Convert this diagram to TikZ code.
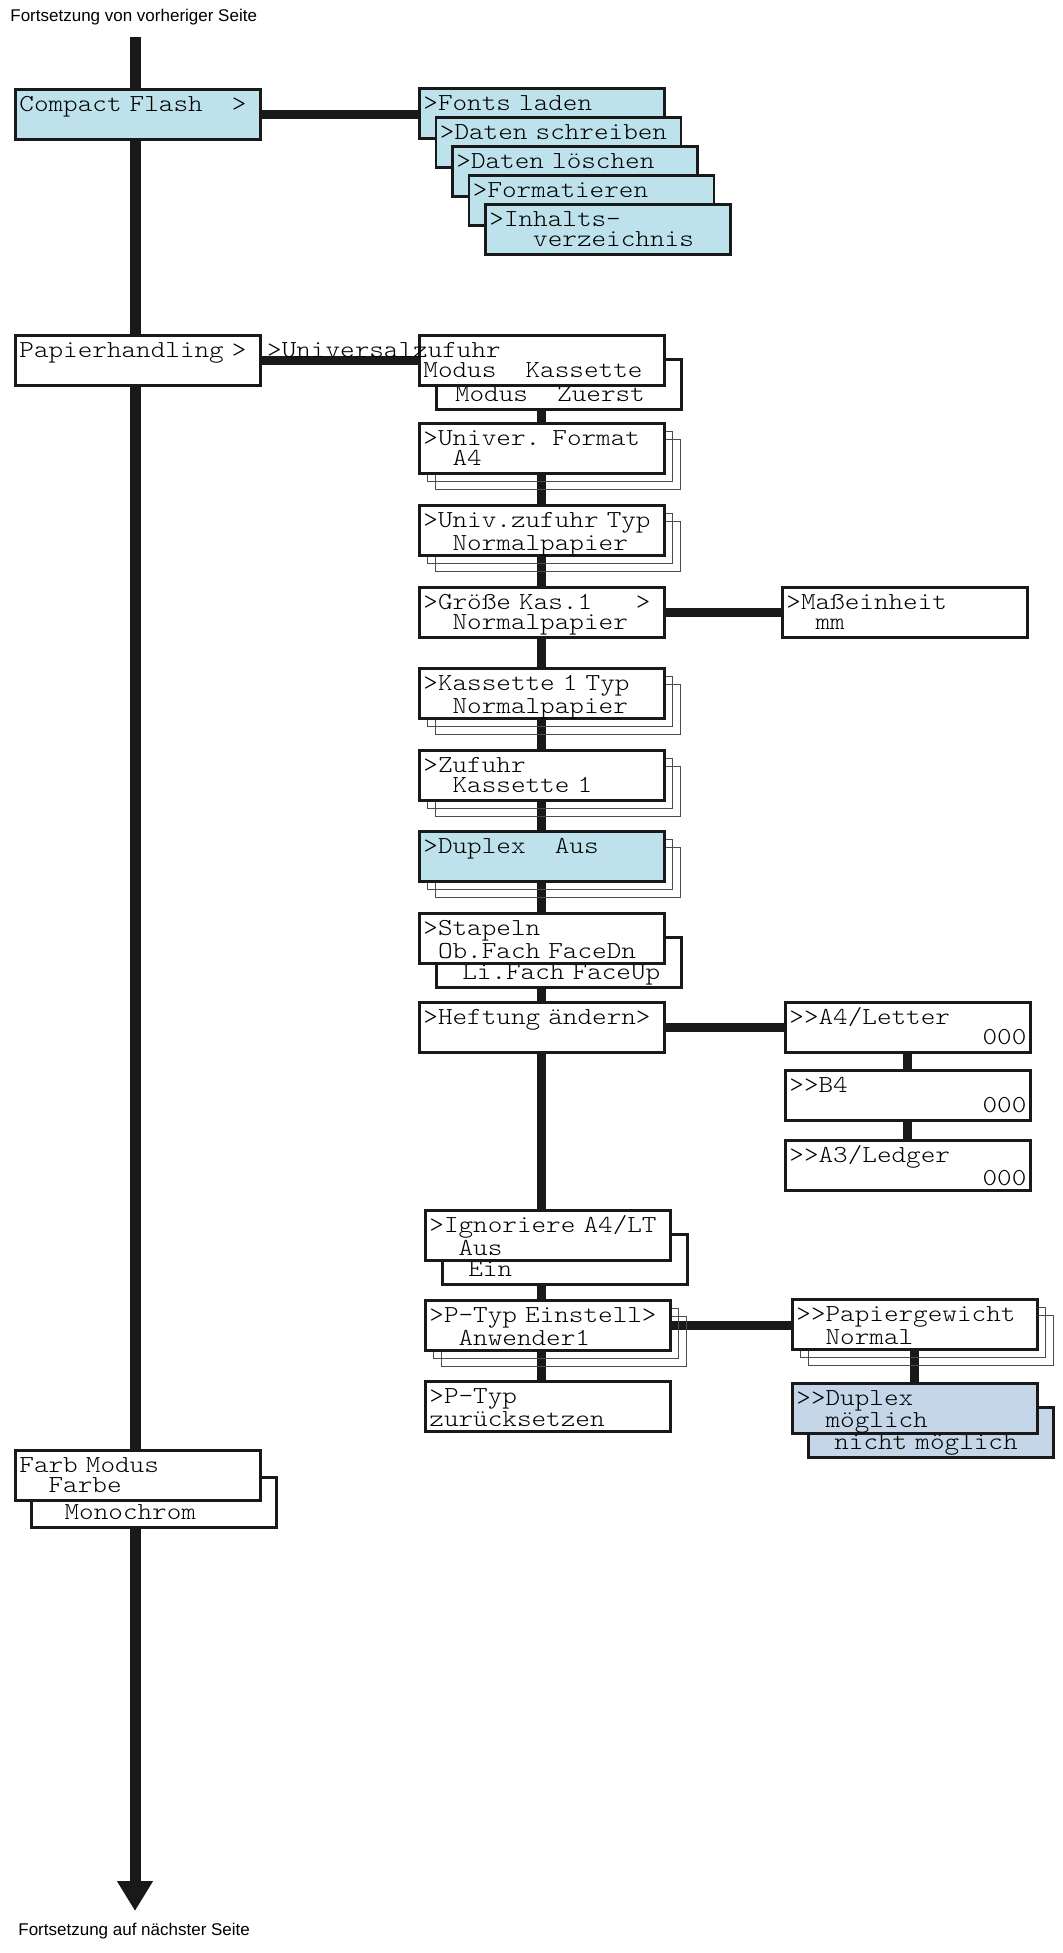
\documentclass[tikz,border=0pt]{standalone}
\usepackage{fontspec}
\newfontfamily\notefont{Liberation Sans}
\newfontfamily\lcdfont{lmmonolt10-regular}[Extension=.otf, FakeStretch=1.14]
\usetikzlibrary{arrows.meta,shadows,backgrounds}
\definecolor{flashblue}{RGB}{190,226,236}
\definecolor{duplexblue}{RGB}{196,214,232}
\setlength{\lineskiplimit}{-20pt}
\newcommand\lcdsize{\lcdfont\fontsize{12.2}{10}\selectfont
  \spaceskip=\fontcharwd\font`x\relax\xspaceskip=\spaceskip}
\newcommand\pad[1]{\hspace*{#1\fontcharwd\font`x}}
\newcommand\counter{\makebox[\linewidth][r]{000}}
\begin{document}
\begin{tikzpicture}[x=0.5pt,y=-0.5pt,
  menu/.style={draw=black!90, line width=1.4pt, fill=white, anchor=north west,
    minimum width=122.5pt, minimum height=25pt, text width=118.5pt,
    inner xsep=2pt, inner ysep=0pt, text height=11pt, text depth=14pt,
    font=\lcdsize},
  layered/.style={
    general shadow={shadow xshift=8pt, shadow yshift=-8pt, draw=black!70, line width=0.7pt},
    general shadow={shadow xshift=4pt, shadow yshift=-4pt, draw=black!70, line width=0.7pt}},
  link/.style={line width=4.5pt, draw=black!90},
  trunk/.style={line width=5.5pt, draw=black!90},
  note/.style={anchor=west, inner sep=0pt, font=\notefont\fontsize{8.5}{10}\selectfont}]
\useasboundingbox (0,0) rectangle (1062,1953);
\node[note] (prev) at (10,17) {Fortsetzung von vorheriger Seite};
\node[note] (next) at (18,1931) {Fortsetzung auf nächster Seite};
\coordinate (top) at (135,37);
\coordinate (end) at (135,1911);
\node[menu, fill=flashblue] (cf) at (14,88) {Compact Flash\pad{2}>};
\node[menu, fill=flashblue] (fonts) at (418,87) {>Fonts laden};
\node[menu, fill=flashblue] (write) at (434.5,116) {>Daten schreiben};
\node[menu, fill=flashblue] (erase) at (451,145) {>Daten löschen};
\node[menu, fill=flashblue] (format) at (467.5,174) {>Formatieren};
\node[menu, fill=flashblue] (dir) at (484,203) {>Inhalts-\\\pad{3}verzeichnis};
\node[menu] (paper) at (14,334) {Papierhandling >};
\node[menu] (uniback) at (435,358) {\mbox{}\\\pad{1}Modus\pad{2}Zuerst};
\node[menu] (uni) at (418,334) {\pad{-10.7}>Universalzufuhr\\Modus\pad{2}Kassette};
\node[menu, layered] (uformat) at (418,422) {>Univer. Format\\\pad{2}A4};
\node[menu, layered] (utype) at (418,504) {>Univ.zufuhr Typ\\\pad{2}Normalpapier};
\node[menu] (size) at (418,586) {>Größe Kas.1\pad{3}>\\\pad{2}Normalpapier};
\node[menu] (unit) at (781,586) {>Maßeinheit\\\pad{2}mm};
\node[menu, layered] (ktype) at (418,667) {>Kassette 1 Typ\\\pad{2}Normalpapier};
\node[menu, layered] (feed) at (418,749) {>Zufuhr\\\pad{2}Kassette 1};
\node[menu, layered, fill=flashblue] (duplex) at (418,830) {>Duplex\pad{2}Aus};
\node[menu] (stackback) at (435,936) {\mbox{}\\\pad{1.5}Li.Fach FaceUp};
\node[menu] (stack) at (418,912) {>Stapeln\\\pad{1}Ob.Fach FaceDn};
\node[menu] (staple) at (418,1001) {>Heftung ändern>};
\node[menu] (a4) at (784,1001) {>>A4/Letter\\\counter};
\node[menu] (b4) at (784,1069) {>>B4\\\counter};
\node[menu] (a3) at (784,1139) {>>A3/Ledger\\\counter};
\node[menu] (ignback) at (441,1233) {\mbox{}\\\pad{1.5}Ein};
\node[menu] (ignore) at (424,1209) {>Ignoriere A4/LT\\\pad{2}Aus};
\node[menu, layered] (ptype) at (424,1299) {>P-Typ Einstell>\\\pad{2}Anwender1};
\node[menu, layered] (weight) at (791,1298) {>>Papiergewicht\\\pad{2}Normal};
\node[menu] (reset) at (424,1380) {>P-Typ\\zurücksetzen};
\node[menu, fill=duplexblue] (dupback) at (807,1406) {\mbox{}\\\pad{1.5}nicht möglich};
\node[menu, fill=duplexblue] (dupok) at (791,1382) {>>Duplex\\\pad{2}möglich};
\node[menu] (colorback) at (30,1476) {\mbox{}\\\pad{2}Monochrom};
\node[menu] (color) at (14,1449) {Farb Modus\\\pad{2}Farbe};
\begin{pgfonlayer}{background}
\draw[trunk, -{Triangle[width=17pt,length=15pt]}] (top) -- (end);
\draw[link] (cf.east) -- (cf.east -| fonts.west);
\draw[link] (paper.east) -- (uni.west);
\draw[link] (uni) -- (uformat) -- (utype) -- (size) -- (ktype) -- (feed) -- (duplex) -- (stack) -- (staple);
\draw[link] (staple) -- (staple |- ignore) -- (staple |- ptype) -- (staple |- reset);
\draw[link] (size) -- (unit);
\draw[link] (staple) -- (a4) -- (b4) -- (a3);
\draw[link] (ptype) -- (ptype -| weight) -- (weight) -- (dupok);
\end{pgfonlayer}
\end{tikzpicture}
\end{document}
